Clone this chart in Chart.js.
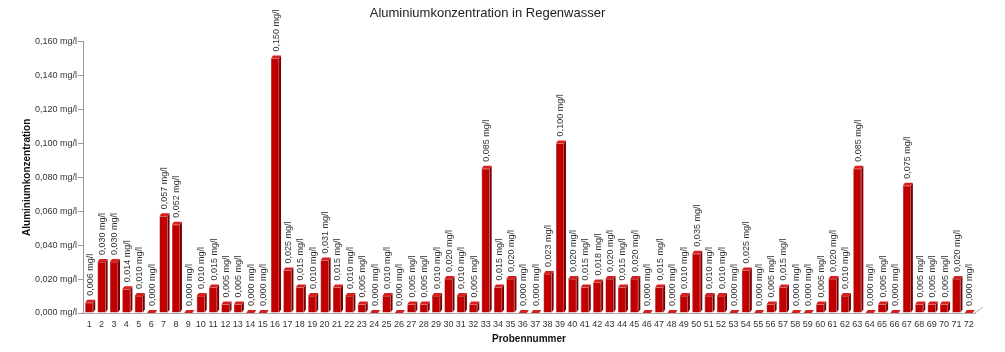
<!DOCTYPE html>
<html>
<head>
<meta charset="utf-8">
<script src="https://cdn.jsdelivr.net/npm/chart.js@4/dist/chart.umd.min.js"></script>
<style>
html,body{margin:0;padding:0;background:#fff;}
#wrap{width:1005px;height:352px;position:relative;}
</style>
</head>
<body>
<div id="wrap"><canvas id="c" width="1005" height="352"></canvas></div>
<script>
const categories = ["1","2","3","4","5","6","7","8","9","10","11","12","13","14","15","16","17","18","19","20","21","22","23","24","25","26","27","28","29","30","31","32","33","34","35","36","37","38","39","40","41","42","43","44","45","46","47","48","49","50","51","52","53","54","55","56","57","58","59","60","61","62","63","64","65","66","67","68","69","70","71","72"];
const aluminium = [0.006,0.030,0.030,0.014,0.010,0.000,0.057,0.052,0.000,0.010,0.015,0.005,0.005,0.000,0.000,0.150,0.025,0.015,0.010,0.031,0.015,0.010,0.005,0.000,0.010,0.000,0.005,0.005,0.010,0.020,0.010,0.005,0.085,0.015,0.020,0.000,0.000,0.023,0.100,0.020,0.015,0.018,0.020,0.015,0.020,0.000,0.015,0.000,0.010,0.035,0.010,0.010,0.000,0.025,0.000,0.005,0.015,0.000,0.000,0.005,0.020,0.010,0.085,0.000,0.005,0.000,0.075,0.005,0.005,0.005,0.020,0.000];
const yTickValues = [0.000,0.020,0.040,0.060,0.080,0.100,0.120,0.140,0.160];
const titleText = "Aluminiumkonzentration in Regenwasser";
const yTitle = "Aluminiumkonzentration";
const xTitle = "Probennummer";

const fmt = v => v.toFixed(3).replace('.', ',') + ' mg/l';
const FONT = '"Liberation Sans", Arial, sans-serif';

const bar3d = {
  id: 'bar3d',
  afterDatasetsDraw(chart) {
    const ctx = chart.ctx;
    const meta = chart.getDatasetMeta(0);
    const dx = 2, dy = 3;
    const ca = chart.chartArea;
    ctx.save();
    // 3D floor edge at right end of x axis
    ctx.strokeStyle = '#aaa';
    ctx.lineWidth = 1;
    ctx.beginPath();
    ctx.moveTo(ca.right, ca.bottom);
    ctx.lineTo(ca.right + 8, ca.bottom - 6);
    ctx.stroke();
    meta.data.forEach((el, i) => {
      const w = el.width, l = el.x - w / 2, r = el.x + w / 2, t = el.y, b = el.base;
      ctx.fillStyle = '#7a0000';
      ctx.beginPath();
      ctx.moveTo(r, t); ctx.lineTo(r + dx, t - dy); ctx.lineTo(r + dx, b - dy); ctx.lineTo(r, b); ctx.closePath();
      ctx.fill();
      ctx.fillStyle = '#d42020';
      ctx.beginPath();
      ctx.moveTo(l, t); ctx.lineTo(l + dx, t - dy); ctx.lineTo(r + dx, t - dy); ctx.lineTo(r, t); ctx.closePath();
      ctx.fill();
      ctx.save();
      ctx.translate(el.x + 1, t - dy - 4);
      ctx.rotate(-Math.PI / 2);
      ctx.font = '9px ' + FONT;
      ctx.fillStyle = '#333';
      ctx.textAlign = 'left';
      ctx.textBaseline = 'middle';
      ctx.fillText(fmt(aluminium[i]), 0, 0);
      ctx.restore();
    });
    ctx.restore();
  }
};

new Chart(document.getElementById('c'), {
  type: 'bar',
  data: {
    labels: categories,
    datasets: [{
      data: aluminium,
      backgroundColor: '#c00000',
      borderColor: '#900000',
      borderWidth: 0.5,
      barPercentage: 0.65,
      categoryPercentage: 1.0
    }]
  },
  options: {
    responsive: false,
    animation: false,
    layout: { padding: { left: 0, right: 30, top: 0, bottom: 0 } },
    plugins: {
      legend: { display: false },
      tooltip: { enabled: false },
      title: {
        display: true,
        text: titleText,
        color: '#222',
        font: { family: FONT, size: 13, weight: 'normal' },
        padding: { top: 6, bottom: 20 }
      }
    },
    scales: {
      x: {
        grid: { display: false, drawTicks: false },
        border: { display: true, color: '#aaa' },
        ticks: { color: '#333', font: { family: FONT, size: 9 }, padding: 6, maxRotation: 0, autoSkip: false },
        title: { display: true, text: xTitle, color: '#111', font: { family: FONT, size: 10, weight: 'bold' }, padding: { top: 2, bottom: 7 } },
        afterFit: s => { s.height = 39; }
      },
      y: {
        min: 0, max: 0.16,
        afterBuildTicks: s => { s.ticks = yTickValues.map(v => ({ value: v })); },
        grid: { display: true, drawOnChartArea: false, drawTicks: true, tickLength: 5, color: '#999' },
        border: { display: true, color: '#999' },
        ticks: { color: '#333', font: { family: FONT, size: 9 }, padding: 1, callback: v => fmt(v) },
        title: { display: true, text: yTitle, color: '#111', font: { family: FONT, size: 10, weight: 'bold' }, padding: { top: 21, bottom: 0 } },
        afterFit: s => { s.width = 83; }
      }
    }
  },
  plugins: [bar3d]
});
</script>
</body>
</html>
